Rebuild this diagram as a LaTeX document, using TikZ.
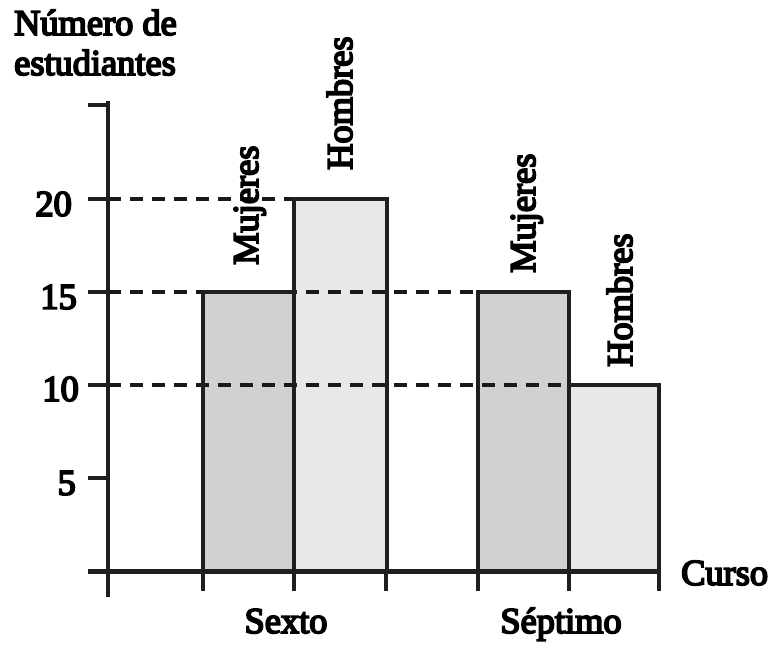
\documentclass[tikz,border=0pt]{standalone}
\usepackage{fontspec}
\setmainfont{Liberation Serif}[FakeBold=5]
\begin{document}
\begin{tikzpicture}[x=1bp,y=-1bp,
  lbl/.style={inner sep=0pt,font=\fontsize{36.5}{40}\selectfont},
  rot/.style={lbl,rotate=90,anchor=base west},
  guide/.style={line width=3.2bp,dash pattern=on 13bp off 9bp,color=black!90},
  barM/.style={fill=black!18,draw=black!88,line width=4.5bp},
  barH/.style={fill=black!9,draw=black!88,line width=4.5bp},
  tick/.style={line width=4.5bp,draw=black!88},
  axis/.style={draw=black!88}]
\useasboundingbox (0,0) rectangle (775,645);
% fills
\fill[black!18] (203,292) rectangle (294,571);
\fill[black!9] (294,199) rectangle (387,571);
\fill[black!18] (478,292) rectangle (569,571);
\fill[black!9] (569,385) rectangle (659,571);
% guide lines
\coordinate (g20) at (108,199);
\coordinate (g15) at (108,292);
\coordinate (g10) at (108,385);
\draw[guide] (g20) -- (294,199);
\draw[guide] (g15) -- (478,292);
\draw[guide] (g10) -- (569,385);
% bar outlines
\draw[barM,fill=none,line join=miter] (203,571) -- (203,292) -- (294,292) -- (294,571);
\draw[barH,fill=none,line join=miter] (294,571) -- (294,199) -- (387,199) -- (387,571);
\draw[barM,fill=none,line join=miter] (478,571) -- (478,292) -- (569,292) -- (569,571);
\draw[barH,fill=none,line join=miter] (569,571) -- (569,385) -- (659,385) -- (659,571);
% axes
\coordinate (ytop) at (108,101);
\coordinate (ybot) at (108,597);
\coordinate (xl) at (88,571);
\coordinate (xr) at (659,571);
\draw[axis,line width=3.2bp] (ytop) -- (ybot);
\draw[axis,line width=5bp] (xl) -- (xr);
\foreach \yy in {105,199,292,385,478} \draw[tick] (88,\yy) -- (108,\yy);
\foreach \xx in {203,294,386,478,569,659} \draw[axis,line width=4bp] (\xx,571) -- (\xx,591);
% y labels
\node[lbl,anchor=east] (l20) at (72,204) {20};
\node[lbl,anchor=east] (l15) at (77,297) {15};
\node[lbl,anchor=east] (l10) at (79,389) {10};
\node[lbl,anchor=east] (l5) at (76,483) {5};
% title
\node[lbl,anchor=base west] (t1) at (14,35) {Número de};
\node[lbl,anchor=base west] (t2) at (14,75) {estudiantes};
% bar labels
\node[rot] (m6) at (258,265) {Mujeres};
\node[rot] (h6) at (352,170) {Hombres};
\node[rot] (m7) at (535,273) {Mujeres};
\node[rot] (h7) at (632,367) {Hombres};
% x labels
\node[lbl,anchor=base] (sx) at (286,633) {Sexto};
\node[lbl,anchor=base] (sp) at (561,633) {Séptimo};
\node[lbl,anchor=west] (cu) at (681,573) {Curso};
\end{tikzpicture}
\end{document}
